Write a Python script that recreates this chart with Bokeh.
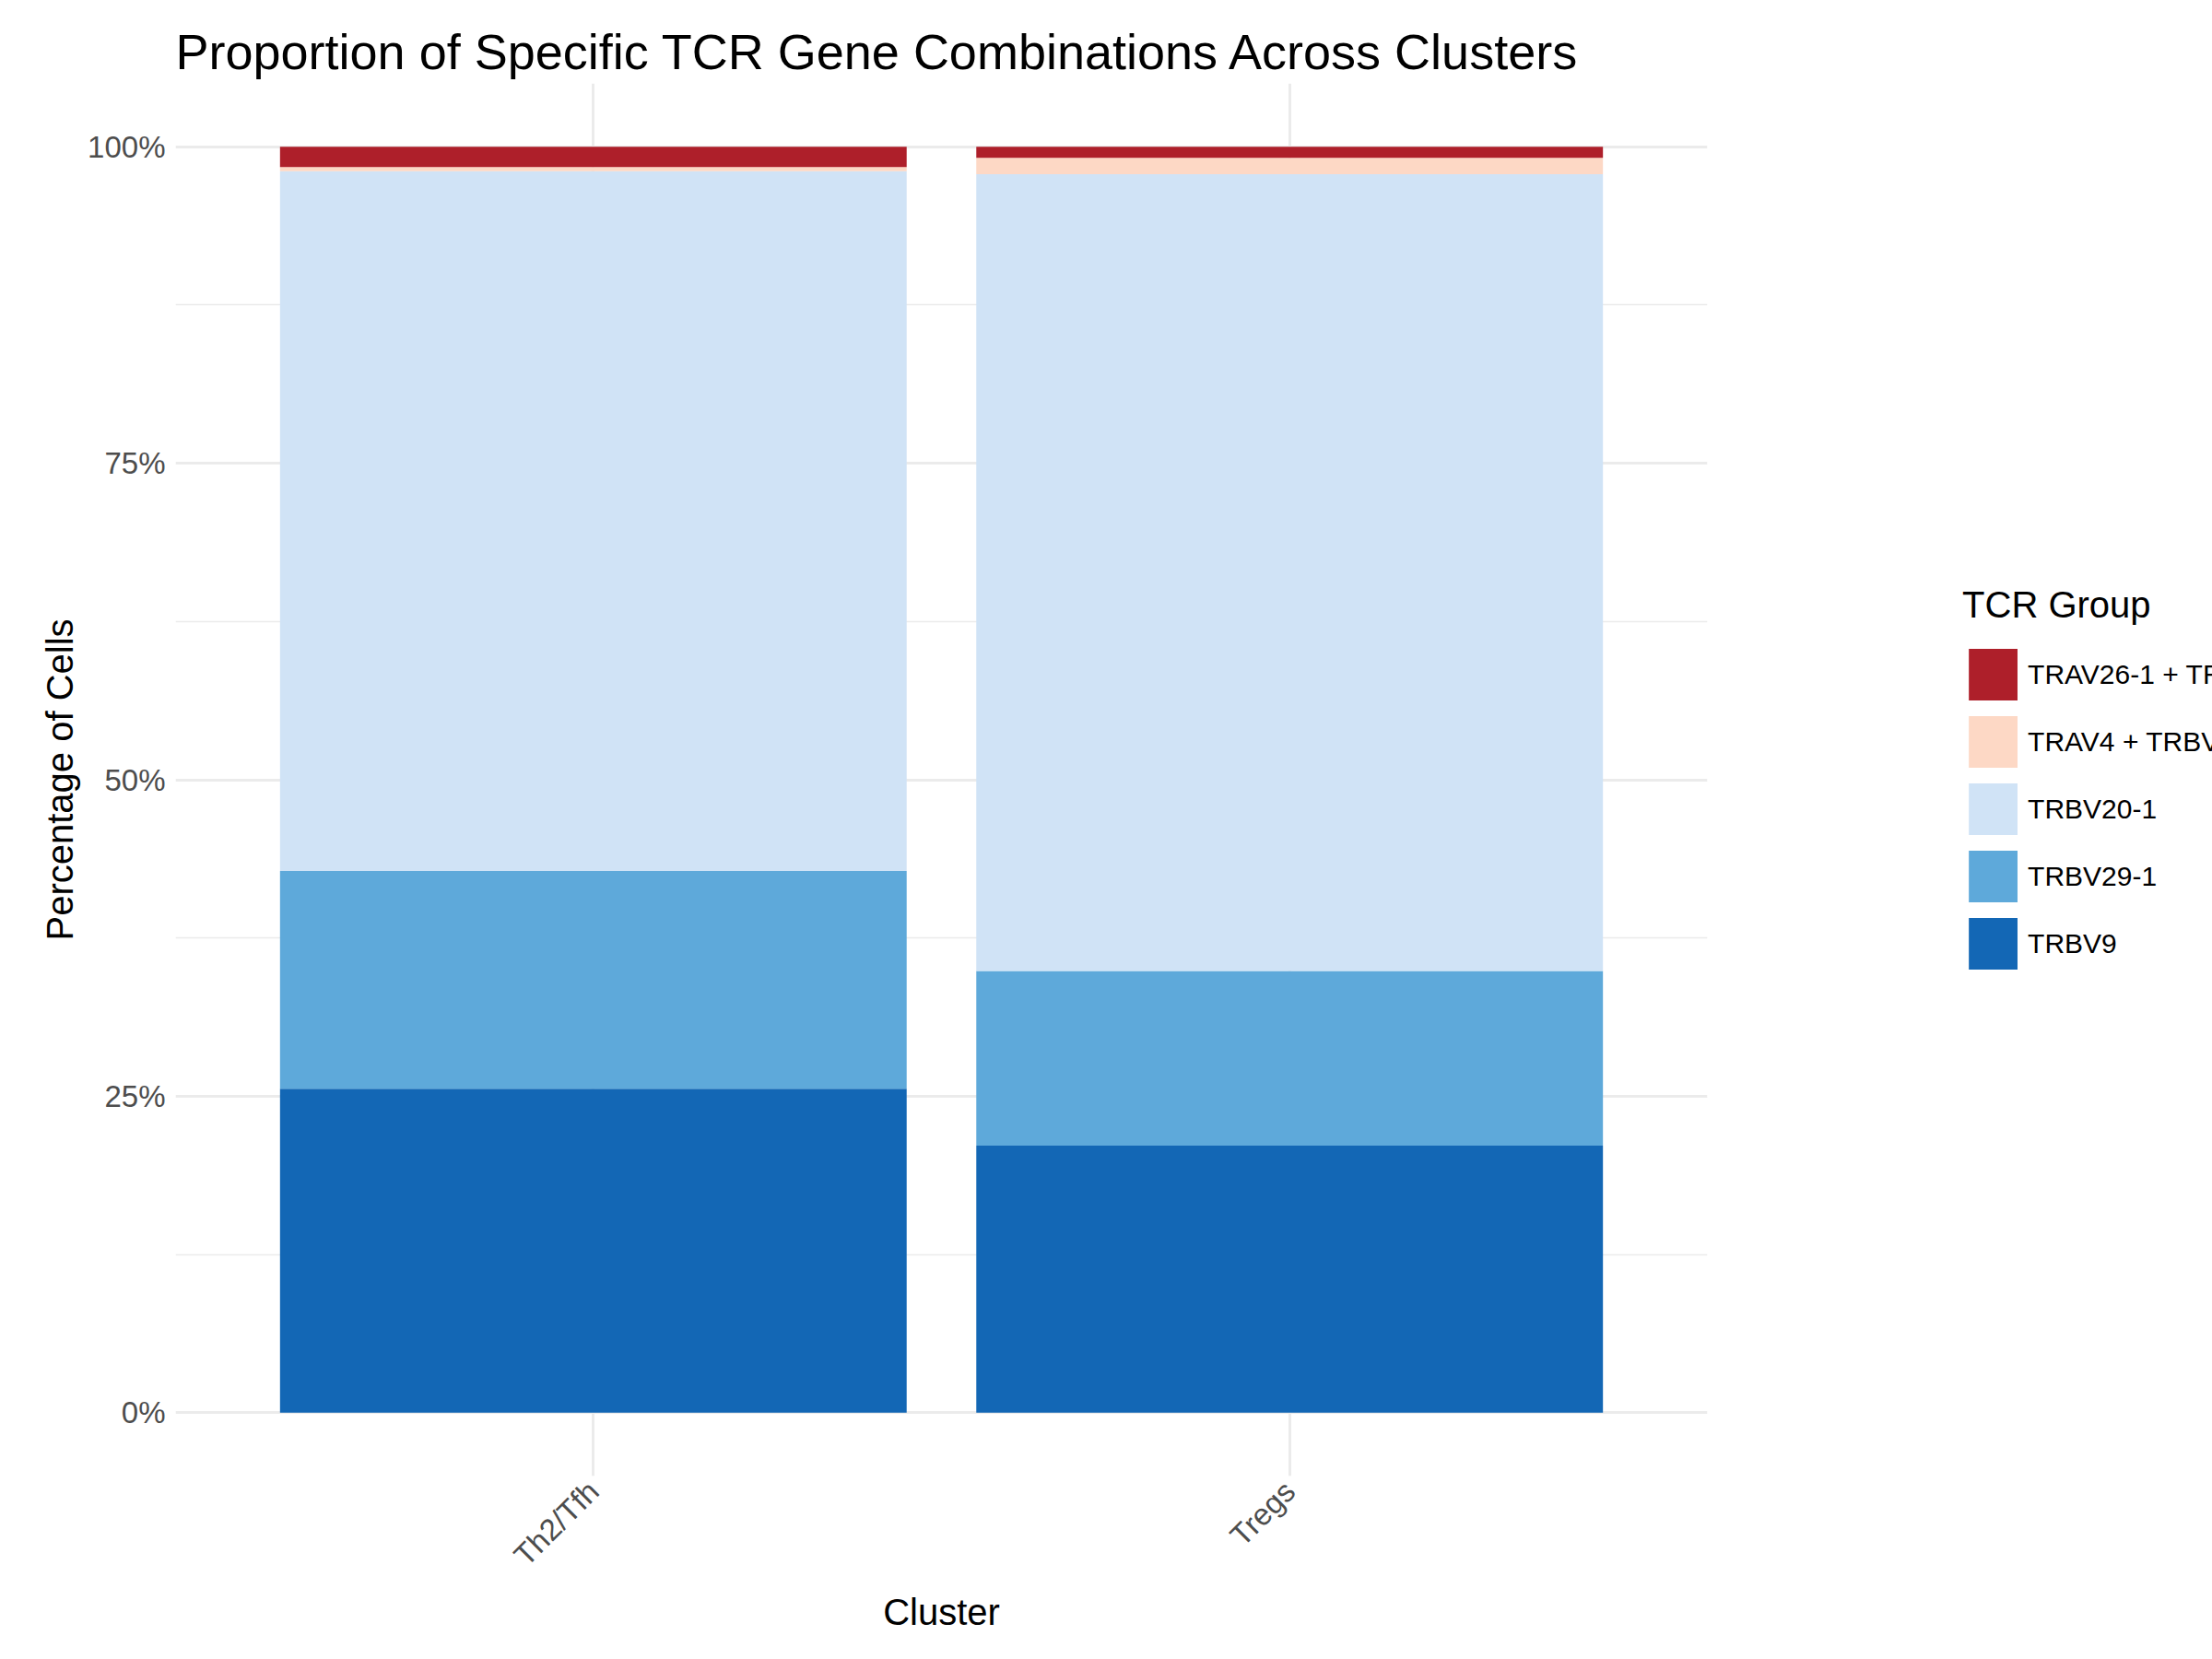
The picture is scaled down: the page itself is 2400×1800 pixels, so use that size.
from bokeh.plotting import figure
from bokeh.models import ColumnDataSource, Legend, LegendItem, FixedTicker, NumeralTickFormatter
from bokeh.embed import file_html
from bokeh.resources import INLINE
import math

clusters = ["Th2/Tfh", "Tregs"]
groups = ["TRBV9", "TRBV29-1", "TRBV20-1", "TRAV4 + TRBV7-2", "TRAV26-1 + TRBV7-2"]
colors = ["#1367B5", "#5EA9DA", "#D0E3F6", "#FDD8C5", "#AE1F2A"]
trbv9 = [0.256, 0.211]
trbv29_1 = [0.172, 0.138]
trbv20_1 = [0.5526, 0.6293]
trav4_trbv7_2 = [0.0034, 0.013]
trav26_1_trbv7_2 = [0.016, 0.0087]

FONT = "Liberation Sans"
x = [1, 2]
source = ColumnDataSource(dict(x=x, TRBV9=trbv9, **{
    "TRBV29-1": trbv29_1, "TRBV20-1": trbv20_1,
    "TRAV4 + TRBV7-2": trav4_trbv7_2, "TRAV26-1 + TRBV7-2": trav26_1_trbv7_2}))

p = figure(frame_width=1662, frame_height=1511, output_backend="svg", toolbar_location=None,
           x_range=(0.4, 2.6), y_range=(-0.05, 1.05),
           title="Proportion of Specific TCR Gene Combinations Across Clusters")
p.min_border_left = 190
p.min_border_top = 90
p.min_border_bottom = 170
p.min_border_right = 0
p.outline_line_color = None

renderers = p.vbar_stack(groups, x="x", width=0.9, color=colors, line_color=None, source=source)

p.title.text_font = FONT
p.title.text_font_size = "54px"
p.title.text_font_style = "normal"
p.title.text_color = "black"
p.title.offset = 0

p.xaxis.ticker = FixedTicker(ticks=x)
p.xaxis.major_label_overrides = {1: clusters[0], 2: clusters[1]}
p.xaxis.major_label_orientation = math.pi / 4
p.yaxis.ticker = FixedTicker(ticks=[0, 0.25, 0.5, 0.75, 1.0], minor_ticks=[0.125, 0.375, 0.625, 0.875])
p.yaxis.formatter = NumeralTickFormatter(format="0%")
for ax in (p.xaxis, p.yaxis):
    ax.axis_line_color = None
    ax.major_tick_line_color = None
    ax.minor_tick_line_color = None
    ax.major_label_text_font = FONT
    ax.major_label_text_font_size = "33px"
    ax.major_label_text_color = "#4D4D4D"
    ax.axis_label_text_font = FONT
    ax.axis_label_text_font_size = "40px"
    ax.axis_label_text_font_style = "normal"
    ax.axis_label_text_color = "black"
p.xaxis.axis_label = "Cluster"
p.yaxis.axis_label = "Percentage of Cells"

p.xgrid.ticker = FixedTicker(ticks=x)
p.grid.grid_line_color = "#EBEBEB"
p.grid.grid_line_width = 3
p.ygrid.minor_grid_line_color = "#EBEBEB"
p.ygrid.minor_grid_line_width = 1.5

items = [LegendItem(label=g, renderers=[r]) for g, r in zip(groups, renderers)][::-1]
legend = Legend(items=items, title="TCR Group", location="center")
legend.title_text_font = FONT
legend.title_text_font_size = "40px"
legend.title_text_font_style = "normal"
legend.title_text_color = "black"
legend.title_standoff = 18
legend.label_text_font = FONT
legend.label_text_font_size = "30px"
legend.label_text_color = "black"
legend.glyph_width = 66
legend.glyph_height = 70
legend.spacing = 3
legend.border_line_color = None
legend.margin = 60
p.add_layout(legend, "right")

open("out.html", "w").write(file_html(p, INLINE))
